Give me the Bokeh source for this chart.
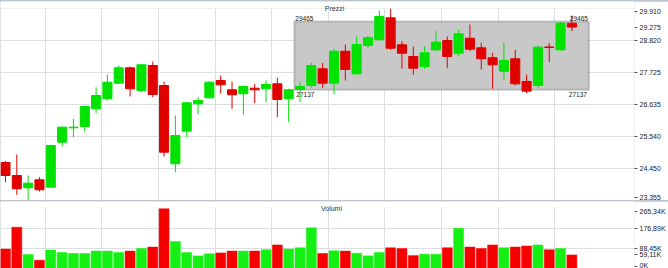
from bokeh.plotting import figure
from bokeh.layouts import column
from bokeh.models import Range1d, FixedTicker, BoxAnnotation, Label
from bokeh.embed import file_html
from bokeh.resources import INLINE

# ---------------- data ----------------
opens = [24652, 24209, 23789, 24062, 23809, 25345, 25837, 25881, 26486, 26827,
         27360, 27885, 27110, 27964, 27281, 24608, 25721, 26656, 26861, 27452,
         27134, 26998, 27189, 27168, 27339, 26827, 27145, 27281, 27851, 27360,
         28452, 27680, 28647, 28841, 29592, 28671, 28271, 27930, 28500, 28817,
         28384, 28896, 28568, 28227, 27769, 28193, 27418, 27281, 28596, 28500, 29408]
highs = [24704, 24925, 24209, 24150, 25257, 25881, 26144, 26598, 27223, 27657,
         27964, 27930, 27998, 28100, 27418, 26257, 26711, 26882, 27428, 27622,
         27418, 27281, 27339, 27452, 27544, 27168, 27418, 28056, 28056, 28534,
         28681, 28954, 28988, 29842, 29900, 28793, 28613, 28613, 29135, 28954,
         29183, 29364, 28739, 28397, 28739, 28500, 27657, 28647, 28725, 29442, 29671]
lows = [23980, 23550, 23379, 23662, 23789, 25199, 25516, 25687, 26335, 26769,
        27339, 26906, 27052, 26882, 24857, 24321, 25516, 26291, 26847, 26998,
        26486, 26291, 26677, 26711, 26199, 26028, 26711, 27203, 27203, 26974,
        27452, 27657, 28554, 28817, 28500, 27851, 27646, 27851, 28452, 27872,
        28271, 28452, 27827, 27168, 27476, 27281, 27018, 27203, 28077, 28476, 29135]
closes = [24209, 23754, 23946, 23720, 25233, 25858, 25858, 26564, 26940, 27394,
          27885, 27168, 27988, 26974, 25004, 25574, 26690, 26769, 27394, 27305,
          26964, 27247, 27134, 27315, 26803, 27134, 27247, 27964, 27360, 28452,
          27827, 28681, 28910, 29637, 28554, 28384, 27872, 28397, 28759, 28271,
          29046, 28520, 28193, 27988, 28135, 27339, 27087, 28589, 28582, 29408, 29275]
volumes_k = [85, 183, 61, 35, 80.6, 70, 65.5, 65.5, 76, 76,
             70, 76, 88, 94, 265.34, 119, 70, 54.7, 64, 68,
             76, 76, 76, 82, 103.6, 85, 91, 180, 65.5, 77.5,
             76, 67, 54.7, 70, 91, 88, 56, 62, 62, 91,
             178, 94, 88, 103.6, 91, 94, 99, 103.6, 82, 88, 59.11]

price_ticks = [23355, 24450, 25540, 26635, 27725, 28820, 29910]
price_labels = ["23.355", "24.450", "25.540", "26.635", "27.725", "28.820", "29.910"]
last_price = 29275
last_price_label = "29.275"

vol_ticks = [0, 88.45, 176.89, 265.34]
vol_labels = ["0K", "88,45K", "176,89K", "265,34K"]
last_vol = 59.11
last_vol_label = "59,11K"

box_start, box_end = 26, 51      # candle slots covered by the drawn rectangle
box_high, box_low = 29465, 27137

panel_titles = ["Prezzi", "Volumi"]

# ---------------- style / geometry ----------------
W = 668
RIGHT = 30
FRAME_W = W - RIGHT
SLOT = 11.4
FIRST_X = 5
FONT = "Liberation Sans"
GREEN, RED = "#00e200", "#e00000"
VGREEN, VRED = "#14f014", "#f60000"
GRID = "#dcdfe2"

n = len(opens)
idx = list(range(n))
up = [c >= o for o, c in zip(opens, closes)]
ccol = [GREEN if u else RED for u in up]
vcol = [VGREEN if u else VRED for u in up]
x_start = -FIRST_X / SLOT
x_end = x_start + FRAME_W / SLOT
week_lines = [i - 0.5 for i in range(4, n, 5)]


def style_axis(ax):
    ax.axis_line_color = None
    ax.major_tick_in = 0
    ax.major_tick_out = 3
    ax.major_tick_line_color = "#555555"
    ax.major_label_standoff = 2
    ax.major_label_text_font = FONT
    ax.major_label_text_font_size = "7px"
    ax.major_label_text_color = "#222222"


title_kw = dict(x_units="screen", y_units="screen", text_align="center",
                text_baseline="alphabetic", text_font=FONT,
                text_font_size="7px", text_color="#333333")

# ---------------- price panel ----------------
P_H, P_HEAD = 199, 7                     # canvas height, header band (px)
ppu = (price_ticks[-1] - price_ticks[0]) / (P_H - P_HEAD)
p_top = price_ticks[-1] + P_HEAD * ppu
p = figure(width=W, height=P_H,
           x_range=Range1d(x_start, x_end),
           y_range=Range1d(price_ticks[0], p_top),
           x_axis_location=None, y_axis_location="right",
           output_backend="svg", toolbar_location=None, tools="",
           min_border_top=0, min_border_bottom=0, min_border_left=0,
           min_border_right=RIGHT)
p.outline_line_color = None
p.xgrid.ticker = FixedTicker(ticks=week_lines)
p.ygrid.ticker = FixedTicker(ticks=price_ticks)
for g in (p.xgrid, p.ygrid):
    g.grid_line_color = GRID
    g.grid_line_width = 1

pt_pos = list(price_ticks)
pt_pos[0] = price_ticks[0] + 3 * ppu
pt_pos[-1] = price_ticks[-1] - 3 * ppu
ov = {pos: lab for pos, lab in zip(pt_pos, price_labels)}
ov[last_price] = last_price_label
ax = p.yaxis[0]
ax.ticker = FixedTicker(ticks=pt_pos + [last_price])
ax.major_label_overrides = ov
style_axis(ax)

# header band (hides grid above the price scale)
p.add_layout(BoxAnnotation(bottom=price_ticks[-1], fill_color="white", fill_alpha=1.0,
                           line_color=None, level="underlay"))
p.add_layout(BoxAnnotation(left=box_start - 0.5, right=box_end + 0.5,
                           bottom=box_low, top=box_high,
                           fill_color="#c8c8c8", fill_alpha=1.0,
                           line_color="#5c5c5c", line_width=2, level="underlay"))

p.segment(x0=idx, y0=lows, x1=idx, y1=highs, line_color=ccol, line_width=1)
p.vbar(x=idx, width=0.8,
       top=[max(o, c) for o, c in zip(opens, closes)],
       bottom=[min(o, c) for o, c in zip(opens, closes)],
       fill_color=ccol, line_color=ccol, line_width=1)

lab_kw = dict(text_font=FONT, text_font_size="6.5px", text_color="#222222")
p.add_layout(Label(x=box_start - 0.5, y=box_high, text=str(box_high),
                   x_offset=1, y_offset=1, text_baseline="bottom", **lab_kw))
p.add_layout(Label(x=box_start - 0.5, y=box_low, text=str(box_low),
                   x_offset=2, y_offset=-2, text_baseline="top", **lab_kw))
p.add_layout(Label(x=box_end + 0.5, y=box_high, text=str(box_high),
                   x_offset=-1, y_offset=1, text_align="right", text_baseline="bottom", **lab_kw))
p.add_layout(Label(x=box_end + 0.5, y=box_low, text=str(box_low),
                   x_offset=-2, y_offset=-2, text_align="right", text_baseline="top", **lab_kw))
p.add_layout(Label(x=334, y=P_H - 6.5, text=panel_titles[0], **title_kw))

# ---------------- volume panel ----------------
V_H = 67
vpu = vol_ticks[-1] / 59.3
v_top = vol_ticks[-1] + 7.3 * vpu
v = figure(width=W, height=V_H,
           x_range=p.x_range,
           y_range=Range1d(-0.4 * vpu, v_top),
           x_axis_location=None, y_axis_location="right",
           output_backend="svg", toolbar_location=None, tools="",
           min_border_top=0, min_border_bottom=0, min_border_left=0,
           min_border_right=RIGHT)
v.outline_line_color = None
v.xgrid.ticker = FixedTicker(ticks=week_lines)
v.ygrid.ticker = FixedTicker(ticks=vol_ticks[1:3])
for g in (v.xgrid, v.ygrid):
    g.grid_line_color = GRID
    g.grid_line_width = 1

vt_pos = list(vol_ticks)
vt_pos[0] = vol_ticks[0] + 2 * vpu
vt_pos[-1] = vol_ticks[-1] - 3 * vpu
vov = {pos: lab for pos, lab in zip(vt_pos, vol_labels)}
vov[last_vol] = last_vol_label
vax = v.yaxis[0]
vax.ticker = FixedTicker(ticks=vt_pos + [last_vol])
vax.major_label_overrides = vov
style_axis(vax)

v.add_layout(BoxAnnotation(bottom=vol_ticks[-1] + 1.6 * vpu, fill_color="white",
                           fill_alpha=1.0, line_color=None, level="underlay"))
v.vbar(x=idx, width=0.88, top=volumes_k, bottom=0,
       fill_color=vcol, line_color=vcol, line_width=0.5)
v.add_layout(Label(x=331, y=V_H - 7, text=panel_titles[1], **title_kw))

layout = column(p, v, spacing=1,
                styles={"background-color": "#bcc4cc", "padding-top": "1px"})

open("out.html", "w").write(file_html(layout, INLINE))
